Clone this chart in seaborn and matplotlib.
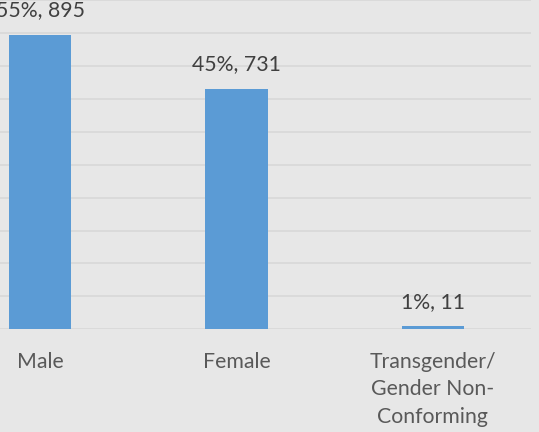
import matplotlib
matplotlib.use("Agg")
import matplotlib.pyplot as plt
import seaborn as sns
import pandas as pd

categories = ["Male", "Female", "Transgender/\nGender Non-\nConforming"]
counts = [895, 731, 11]
percents = ["55%", "45%", "1%"]

sns.set_theme(style="whitegrid")
plt.rcParams['font.family'] = ['Lato', 'DejaVu Sans']

bg = "#e7e7e7"
text_color = "#595959"
label_color = "#404040"
bar_color = "#5b9bd5"

df = pd.DataFrame({"category": categories, "count": counts})

fig = plt.figure(figsize=(5.39, 4.32), dpi=100, facecolor=bg)
ax = fig.add_axes([-58/539, (432-329.3)/432, 589/539, 329.3/432])
ax.set_facecolor(bg)

sns.barplot(data=df, x="category", y="count", color=bar_color, width=0.316,
            saturation=1, ax=ax, zorder=3, linewidth=0, edgecolor=bar_color)

ax.set_ylim(0, 1000)
ax.set_yticks(range(0, 1001, 100))
ax.set_xlim(-0.5, 2.5)
ax.yaxis.grid(True, color="#d9d9d9", linewidth=1.3, zorder=0)
ax.xaxis.grid(False)
ax.set_axisbelow(True)
for s in ax.spines.values():
    s.set_visible(False)
ax.set_xlabel("")
ax.set_ylabel("")
ax.tick_params(axis="y", left=False, labelleft=False)
ax.tick_params(axis="x", length=0, pad=16.5, labelsize=15.3, labelcolor=text_color)
for lbl in ax.get_xticklabels():
    lbl.set_linespacing(1.45)
    lbl.set_verticalalignment("top")

for i, (c, p) in enumerate(zip(counts, percents)):
    ax.annotate(f"{p}, {c}", xy=(i, c), xytext=(0, 13), textcoords="offset points",
                ha="center", va="baseline", fontsize=15.3, color=label_color,
                annotation_clip=False)

fig.savefig("out.png", dpi=100, facecolor=bg)
